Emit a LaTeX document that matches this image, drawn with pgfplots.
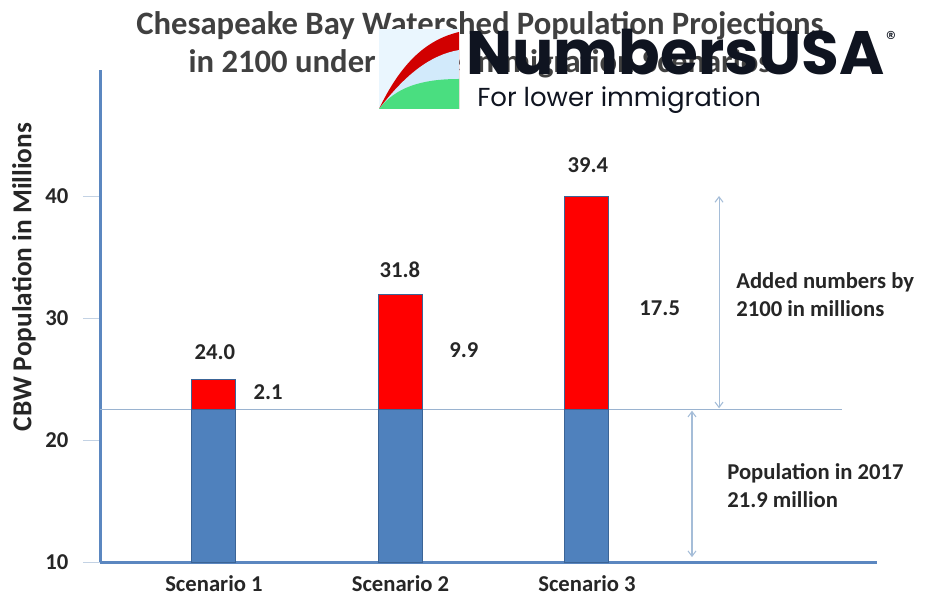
\documentclass[border=0pt]{standalone}
\usepackage{pgfplots}
\pgfplotsset{compat=1.18}
\usepackage{fontspec}
\setmainfont{Carlito}
\newfontfamily\logofont{Poppins}
\usetikzlibrary{arrows.meta}
\definecolor{barblue}{HTML}{4F81BD}
\definecolor{barborder}{HTML}{3B6496}
\definecolor{barred}{HTML}{FF0000}
\definecolor{axisblue}{HTML}{5B87C0}
\definecolor{refline}{HTML}{9AB3D0}
\definecolor{arrowblue}{HTML}{A5BDD8}
\definecolor{tickgray}{HTML}{C3D2E4}
\definecolor{textdark}{HTML}{262626}
\definecolor{titlegray}{HTML}{404040}
\definecolor{iconbg}{HTML}{EAF6FE}
\definecolor{iconred}{HTML}{D10000}
\definecolor{iconlblue}{HTML}{D2EAFB}
\definecolor{icongreen}{HTML}{4ADE80}
\definecolor{logotext}{HTML}{0F1420}
\pgfplotstableread{
x base added
1 22.5 2.5
2 22.5 9.4
3 22.5 17.5
}\cbwdata
\begin{document}
\begin{tikzpicture}[x=1pt,y=1pt]
\path[use as bounding box] (0,0) rectangle (697.5,444);
% title
\node[anchor=base, font=\fontsize{24.5}{28}\selectfont\bfseries, text=titlegray] at (360,417.75) {Chesapeake Bay Watershed Population Projections};
\node[anchor=base, font=\fontsize{24.5}{28}\selectfont\bfseries, text=titlegray] at (360,389.25) {in 2100 under Three Immigration Scenarios};
\begin{axis}[
  at={(75pt,22.5pt)}, anchor=south west,
  scale only axis, width=582.75pt, height=369pt,
  xmin=0.389, xmax=4.555, ymin=10, ymax=50.33,
  axis lines=left,
  axis line style={-, draw=axisblue, line width=2.25pt},
  ybar stacked, bar width=33pt,
  clip mode=individual,
  xtick={1,2,3}, xticklabels={Scenario 1,Scenario 2,Scenario 3},
  xtick style={draw=none},
  ytick={10,20,30,40},
  ytick style={draw=tickgray, line width=0.75pt},
  ytick align=outside, major tick length=12.75pt,
  /pgf/number format/assume math mode=true,
  tick label style={font=\fontsize{17}{20}\selectfont\bfseries, text=textdark},
  xticklabel style={anchor=base, yshift=-15.5pt, inner sep=1pt},
  yticklabel style={anchor=east, xshift=-7.5pt},
  ylabel={CBW Population in Millions},
  ylabel style={at={(axis description cs:-0.0978,0.579)}, anchor=center, font=\fontsize{20.5}{24}\selectfont\bfseries, text=textdark},
]
\addplot[fill=barblue, draw=barborder, line width=0.75pt] table[x=x, y=base] {\cbwdata};
\addplot[fill=barred, draw=barborder, line width=0.75pt] table[x=x, y=added] {\cbwdata};
\draw[refline, line width=1.1pt] (axis cs:0.389,22.5) -- (axis cs:4.367,22.5);
\draw[arrowblue, line width=0.8pt, {Straight Barb[length=4pt,width=6pt]}-{Straight Barb[length=4pt,width=6pt]}] (axis cs:3.708,40.0) -- (axis cs:3.708,22.6);
\draw[arrowblue, line width=0.8pt, {Straight Barb[length=4pt,width=6pt]}-{Straight Barb[length=4pt,width=6pt]}] (axis cs:3.563,22.4) -- (axis cs:3.563,10.4);
\tikzset{vlab/.style={font=\fontsize{17}{20}\selectfont\bfseries, text=textdark, anchor=center}}
\node[vlab] at (axis cs:1.005,27.2) {24.0};
\node[vlab] at (axis cs:1.29,23.93) {2.1};
\node[vlab] at (axis cs:1.997,33.93) {31.8};
\node[vlab] at (axis cs:2.34,27.38) {9.9};
\node[vlab] at (axis cs:3.005,42.54) {39.4};
\node[vlab] at (axis cs:3.39,30.82) {17.5};
\node[vlab, anchor=west, align=left, font=\fontsize{17}{21}\selectfont\bfseries, inner sep=0pt] at (axis cs:3.799,31.9) {Added numbers by\\2100 in millions};
\node[vlab, anchor=west, align=left, font=\fontsize{17}{21}\selectfont\bfseries, inner sep=0pt] at (axis cs:3.751,16.3) {Population in 2017\\21.9 million};
\end{axis}
% logo overlay
\begin{scope}[yshift=444pt, x=0.75pt, y=-0.75pt]
\fill[iconbg] (379,29) rectangle (459,109);
\fill[iconred] (379,109) .. controls (400,65) and (425,40) .. (459,32) -- (459,109) -- cycle;
\fill[iconlblue] (379,109) .. controls (405,75) and (430,55) .. (459,50) -- (459,109) -- cycle;
\fill[icongreen] (379,109) .. controls (395,88) and (420,79) .. (459,79) -- (459,109) -- cycle;
\node[anchor=base west, inner sep=0pt, text=logotext, font=\logofont\bfseries\fontsize{46}{50}\selectfont] at (466,75) {NumbersUSA};
\node[anchor=center, inner sep=0pt, text=logotext, font=\logofont\fontsize{15}{16}\selectfont] at (891,38) {®};
\node[anchor=base west, inner sep=0pt, text=logotext, font=\logofont\fontsize{19.5}{21}\selectfont] at (477,107) {For lower immigration};
\end{scope}
\end{tikzpicture}
\end{document}
